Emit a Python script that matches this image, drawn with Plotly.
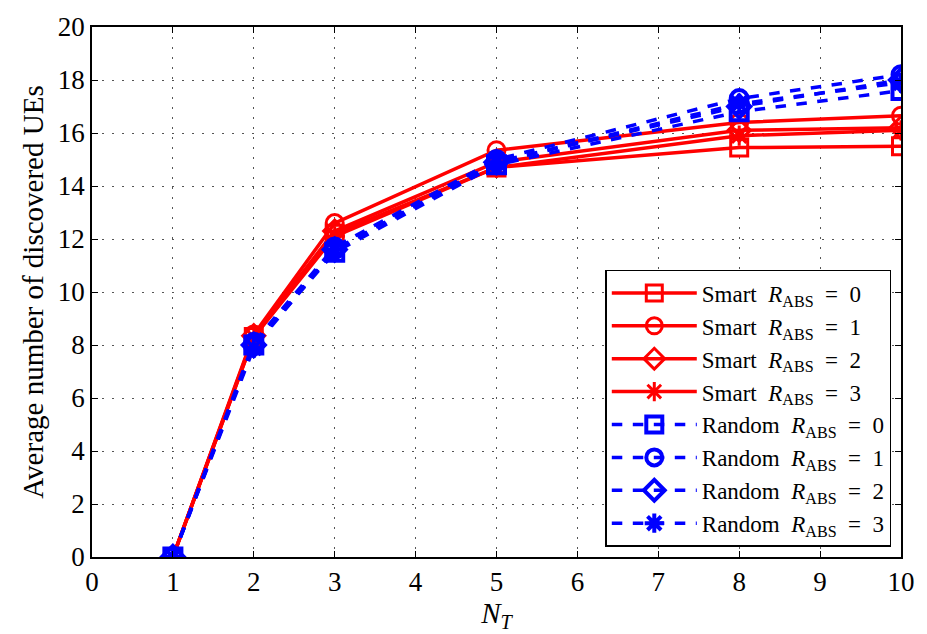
import plotly.graph_objects as go

NT = [1, 2, 3, 5, 8, 10]
smart = {
    0: [0, 8.3, 12.2, 14.7, 15.45, 15.5],
    1: [0, 8.4, 12.6, 15.35, 16.4, 16.65],
    2: [0, 8.35, 12.3, 14.9, 16.1, 16.2],
    3: [0, 8.3, 12.1, 14.7, 15.9, 16.1],
}
rand = {
    0: [0, 8.0, 11.5, 14.8, 16.8, 17.6],
    1: [0, 8.1, 11.7, 15.0, 17.3, 18.2],
    2: [0, 8.0, 11.6, 14.9, 17.0, 18.0],
    3: [0, 7.9, 11.6, 14.9, 17.1, 17.9],
}
symbols = {0: "square-open", 1: "circle-open", 2: "diamond-open", 3: "asterisk-open"}
yticks = list(range(0, 21, 2))
xticks = list(range(0, 11))

SP = "\u2002"
fig = go.Figure()
for k, v in smart.items():
    fig.add_trace(go.Scatter(
        x=NT, y=v, mode="lines+markers",
        name=f"Smart{SP}<i>R</i><sub>ABS</sub>{SP}={SP}{k}",
        line=dict(color="#ff0000", width=3.5),
        marker=dict(symbol=symbols[k], size=17, color="#ff0000", line=dict(width=3, color="#ff0000")),
    ))
for k, v in rand.items():
    fig.add_trace(go.Scatter(
        x=NT, y=v, mode="lines+markers",
        name=f"Random{SP}<i>R</i><sub>ABS</sub>{SP}={SP}{k}",
        line=dict(color="#0000ff", width=3.5, dash="dash"),
        marker=dict(symbol=symbols[k], size=17, color="#0000ff", line=dict(width=4, color="#0000ff")),
    ))

fam = "Liberation Serif, DejaVu Serif, serif"
tickfont = dict(family=fam, size=27, color="black")
titlefont = dict(family=fam, size=29, color="black")
axis_common = dict(
    showline=True, linecolor="black", linewidth=1.5, mirror="ticks",
    ticks="inside", ticklen=6, tickcolor="black",
    showgrid=True, gridcolor="#555", griddash="2px,8px", gridwidth=1,
    zeroline=False, tickfont=tickfont,
)
fig.update_layout(
    width=927, height=634,
    margin=dict(l=92, r=20, t=17, b=77),
    plot_bgcolor="white", paper_bgcolor="white",
    font=tickfont,
    xaxis=dict(range=[0, 10], tickvals=xticks, title=dict(text="<i>N</i><sub><i>T</i></sub>", standoff=0, font=titlefont), **axis_common),
    yaxis=dict(range=[0, 20], tickvals=yticks, title=dict(text="Average number of discovered UEs", standoff=6, font=titlefont), **axis_common),
    legend=dict(
        x=0.988, y=0.019, xanchor="right", yanchor="bottom",
        bgcolor="white", bordercolor="black", borderwidth=1.5,
        font=dict(family=fam, size=23, color="black"),
        tracegroupgap=0, itemwidth=85,
    ),
)
fig.write_html("out.html")
